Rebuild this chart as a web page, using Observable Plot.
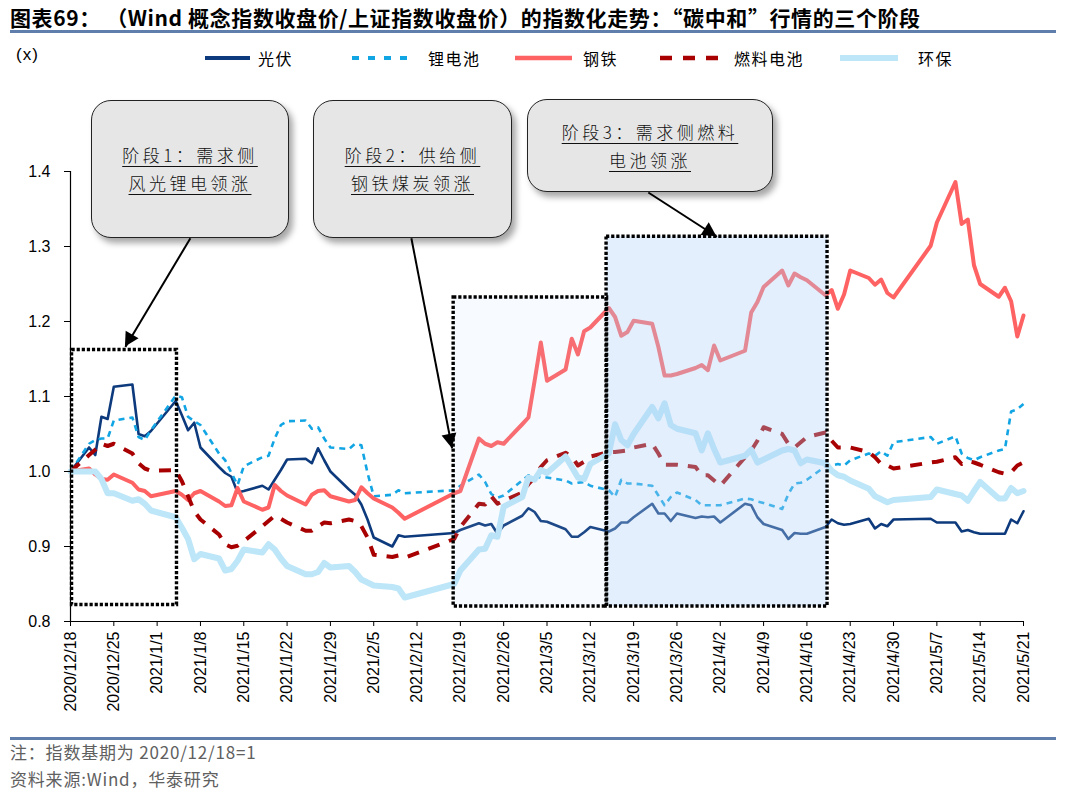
<!DOCTYPE html>
<html><head><meta charset="utf-8">
<script src="https://cdn.jsdelivr.net/npm/d3@7"></script>
<script src="https://cdn.jsdelivr.net/npm/@observablehq/plot@0.6"></script>
<style>
body{margin:0;background:#fff;width:1066px;height:797px;position:relative;overflow:hidden;font-family:"Liberation Sans",Arial,sans-serif;}
.abs{position:absolute;white-space:nowrap;}
#title{left:10px;top:3px;font-family:"Noto Sans CJK SC";font-weight:bold;font-size:21px;line-height:28px;letter-spacing:0.6px;color:#000;}
.rule{left:10px;width:1046px;height:3px;background:#5f7eab;}
#unit{left:16px;top:44px;font-family:"Liberation Sans",Arial,sans-serif;font-size:17px;line-height:22px;letter-spacing:1px;color:#000;}
.lg{top:47px;font-family:"Noto Sans CJK SC";font-size:16px;line-height:22px;letter-spacing:1.5px;color:#000;}
.sw{top:52px;}
.note{left:10px;font-family:"Noto Sans CJK SC";font-size:17px;line-height:22px;color:#606060;letter-spacing:0.8px;}
.call{background:#e6e6e6;border:1.5px solid #222;border-radius:20px;box-shadow:4px 5px 6px rgba(0,0,0,0.35);display:flex;flex-direction:column;align-items:center;justify-content:center;font-family:"Noto Sans CJK SC";font-weight:300;font-size:17px;line-height:28px;letter-spacing:3.5px;color:#111;box-sizing:border-box;z-index:5;}
.call span{text-decoration:underline;text-underline-offset:4px;text-decoration-thickness:1px;}
#chart{position:absolute;left:0;top:80px;}
</style></head>
<body>
<div id="title" class="abs">图表69： （Wind 概念指数收盘价/上证指数收盘价）的指数化走势：“碳中和”行情的三个阶段</div>
<div class="abs rule" style="top:30px"></div>
<div id="unit" class="abs">(x)</div>
<div id="legend"></div>
<div id="chart"></div>
<div class="abs call" style="left:91px;top:100px;width:198px;height:138px"><span>阶段1：需求侧</span><span>风光锂电领涨</span></div>
<div class="abs call" style="left:313px;top:100px;width:199px;height:138px"><span>阶段2：供给侧</span><span>钢铁煤炭领涨</span></div>
<div class="abs call" style="left:527px;top:99px;width:246px;height:93px"><span>阶段3：需求侧燃料</span><span>电池领涨</span></div>
<div class="abs rule" style="top:737px"></div>
<div class="abs note" style="top:741px">注：指数基期为 2020/12/18=1</div>
<div class="abs note" style="top:768px">资料来源:Wind，华泰研究</div>
<script>
// ---------- data ----------
const tradeDates = [
"2020-12-18","2020-12-21","2020-12-22","2020-12-23","2020-12-24","2020-12-25","2020-12-28","2020-12-29","2020-12-30","2020-12-31",
"2021-01-04","2021-01-05","2021-01-06","2021-01-07","2021-01-08","2021-01-11","2021-01-12","2021-01-13","2021-01-14","2021-01-15",
"2021-01-18","2021-01-19","2021-01-20","2021-01-21","2021-01-22","2021-01-25","2021-01-26","2021-01-27","2021-01-28","2021-01-29",
"2021-02-01","2021-02-02","2021-02-03","2021-02-04","2021-02-05","2021-02-08","2021-02-09","2021-02-10","2021-02-18","2021-02-19",
"2021-02-22","2021-02-23","2021-02-24","2021-02-25","2021-02-26","2021-03-01","2021-03-02","2021-03-03","2021-03-04","2021-03-05",
"2021-03-08","2021-03-09","2021-03-10","2021-03-11","2021-03-12","2021-03-15","2021-03-16","2021-03-17","2021-03-18","2021-03-19",
"2021-03-22","2021-03-23","2021-03-24","2021-03-25","2021-03-26","2021-03-29","2021-03-30","2021-03-31","2021-04-01","2021-04-02",
"2021-04-06","2021-04-07","2021-04-08","2021-04-09","2021-04-12","2021-04-13","2021-04-14","2021-04-15","2021-04-16","2021-04-19",
"2021-04-20","2021-04-21","2021-04-22","2021-04-23","2021-04-26","2021-04-27","2021-04-28","2021-04-29","2021-04-30","2021-05-06",
"2021-05-07","2021-05-10","2021-05-11","2021-05-12","2021-05-13","2021-05-14","2021-05-17","2021-05-18","2021-05-19","2021-05-20",
"2021-05-21"];

const pv = [ // 光伏
1.000,1.032,1.022,1.073,1.070,1.113,1.116,1.050,1.047,1.054,
1.094,1.075,1.055,1.065,1.032,1.006,0.998,0.993,0.972,0.974,
0.981,0.976,0.989,1.002,1.016,1.017,1.011,1.031,1.015,1.000,
0.976,0.969,0.956,0.936,0.912,0.900,0.915,0.913,0.918,0.922,
0.931,0.928,0.930,0.917,0.928,0.941,0.951,0.946,0.934,0.933,
0.923,0.913,0.913,0.919,0.926,0.920,0.924,0.932,0.932,0.939,
0.957,0.944,0.944,0.934,0.944,0.938,0.940,0.939,0.940,0.932,
0.957,0.955,0.939,0.930,0.922,0.910,0.918,0.917,0.917,0.926,
0.936,0.931,0.929,0.930,0.937,0.924,0.930,0.927,0.936,0.937,
0.932,0.932,0.920,0.922,0.919,0.917,0.917,0.917,0.936,0.931,0.947];

const lithium = [ // 锂电池
1.000,1.037,1.042,1.044,1.044,1.068,1.072,1.046,1.042,1.055,
1.101,1.099,1.073,1.067,1.062,1.024,1.015,0.998,0.982,1.007,
1.019,1.021,1.044,1.062,1.067,1.068,1.057,1.059,1.044,1.032,
1.030,1.037,1.035,0.998,0.967,0.969,0.975,0.971,0.975,0.981,
0.996,0.986,0.970,0.965,0.968,0.988,0.995,0.994,0.992,0.992,
0.988,0.984,0.985,0.986,0.981,0.975,0.966,0.989,0.984,0.984,
0.981,0.968,0.955,0.966,0.972,0.962,0.955,0.955,0.955,0.955,
0.964,0.963,0.960,0.958,0.950,0.970,0.984,0.985,0.989,1.007,
1.008,1.010,1.008,1.015,1.024,1.021,1.027,1.021,1.039,1.046,
1.037,1.047,1.024,1.018,1.015,1.019,1.028,1.030,1.080,1.083,1.090];

const steel = [ // 钢铁
1.000,1.004,0.996,0.990,0.989,0.996,0.985,0.976,0.974,0.967,
0.974,0.969,0.962,0.971,0.974,0.960,0.954,0.955,0.978,0.960,
0.949,0.952,0.982,0.974,0.968,0.956,0.969,0.974,0.975,0.967,
0.960,0.962,0.979,0.971,0.964,0.952,0.945,0.937,0.971,0.974,
1.044,1.037,1.034,1.039,1.037,1.063,1.072,1.121,1.172,1.121,
1.136,1.177,1.156,1.187,1.192,1.218,1.206,1.181,1.186,1.201,
1.197,1.166,1.128,1.128,1.130,1.138,1.142,1.135,1.168,1.148,
1.161,1.212,1.226,1.246,1.268,1.248,1.264,1.259,1.255,1.235,
1.242,1.217,1.236,1.268,1.258,1.249,1.256,1.238,1.232,1.301,
1.332,1.386,1.330,1.336,1.275,1.250,1.233,1.245,1.227,1.180,1.208];

const fuelCell = [ // 燃料电池
1.000,1.022,1.029,1.037,1.034,1.037,1.024,1.011,1.004,1.001,
1.002,0.987,0.967,0.947,0.936,0.916,0.903,0.899,0.901,0.907,
0.927,0.934,0.941,0.937,0.932,0.921,0.921,0.927,0.932,0.931,
0.936,0.934,0.927,0.912,0.889,0.886,0.888,0.885,0.910,0.926,
0.957,0.956,0.967,0.957,0.961,0.972,0.983,0.992,1.006,1.015,
1.025,1.020,1.008,1.013,1.020,1.026,1.026,1.027,1.028,1.032,
1.037,1.024,1.009,1.009,1.009,1.006,0.995,0.995,0.988,0.981,
1.019,1.028,1.041,1.059,1.050,1.037,1.032,1.039,1.046,1.052,
1.041,1.032,1.032,1.032,1.026,1.019,1.010,1.008,1.004,1.012,
1.013,1.019,1.010,1.014,1.012,1.009,0.999,0.997,0.999,1.008,1.012];

const envProt = [ // 环保
1.000,1.000,1.000,0.990,0.971,0.971,0.961,0.963,0.957,0.948,
0.939,0.925,0.910,0.883,0.890,0.884,0.868,0.870,0.881,0.896,
0.892,0.903,0.896,0.884,0.874,0.863,0.863,0.866,0.878,0.872,
0.874,0.866,0.856,0.852,0.848,0.846,0.844,0.832,0.850,0.868,
0.896,0.897,0.915,0.913,0.953,0.966,0.992,0.989,1.002,0.998,
1.020,1.006,0.992,0.990,1.010,1.024,1.063,1.042,1.035,1.050,
1.086,1.071,1.091,1.062,1.057,1.051,1.028,1.051,1.030,1.012,
1.021,1.029,1.012,1.016,1.028,1.030,1.028,1.011,1.016,1.011,
1.001,0.995,0.993,0.988,0.977,0.967,0.963,0.959,0.962,0.966,
0.976,0.970,0.968,0.961,0.974,0.986,0.964,0.964,0.978,0.971,0.974];

const seriesNames = ["光伏","锂电池","钢铁","燃料电池","环保"];
const seriesValues = [pv, lithium, steel, fuelCell, envProt];

const xTickLabels = ["2020/12/18","2020/12/25","2021/1/1","2021/1/8","2021/1/15","2021/1/22","2021/1/29","2021/2/5","2021/2/12","2021/2/19","2021/2/26","2021/3/5","2021/3/12","2021/3/19","2021/3/26","2021/4/2","2021/4/9","2021/4/16","2021/4/23","2021/4/30","2021/5/7","2021/5/14","2021/5/21"];
const yTicks = [0.8,0.9,1.0,1.1,1.2,1.3,1.4];

// phase boxes (data coordinates)
const phaseStart = ["2020-12-18T06:00","2021-02-17T22:00","2021-03-14T15:00"];
const phaseEnd   = ["2021-01-04T05:00","2021-03-14T17:00","2021-04-19T08:00"];
const phaseLow   = [0.822,0.820,0.820];
const phaseHigh  = [1.162,1.232,1.313];

// callout arrows (data coordinates)
const arrowFromDate = ["2021-01-06T09:00","2021-02-11T02:00","2021-03-21T09:00"];
const arrowFromVal  = [1.311,1.311,1.372];
const arrowToDate   = ["2020-12-26T21:00","2021-02-17T16:00","2021-04-01T11:00"];
const arrowToVal    = [1.166,1.031,1.313];

// ---------- styles ----------
const styles = {
  "光伏":   {stroke:"#0d3a7c", strokeWidth:2.6, dash:null, cap:"round"},
  "锂电池": {stroke:"#12a5e4", strokeWidth:2.6, dash:"6,5", cap:"butt"},
  "钢铁":   {stroke:"#ff6262", strokeWidth:4, dash:null, cap:"round"},
  "燃料电池":{stroke:"#a80000", strokeWidth:4, dash:"12,10", cap:"butt"},
  "环保":   {stroke:"#bde6f9", strokeWidth:6, dash:null, cap:"round"}
};

const iso = d3.utcParse("%Y-%m-%d");
const isoT = d3.utcParse("%Y-%m-%dT%H:%M");
const slash = d3.utcParse("%Y/%m/%d");
const dates = tradeDates.map(iso);
const rows = [];
seriesNames.forEach((name, k) => seriesValues[k].forEach((v, i) => rows.push({date: dates[i], value: v, series: name})));
const tickDates = xTickLabels.map(slash);
const fmt = d => `${d.getUTCFullYear()}/${d.getUTCMonth()+1}/${d.getUTCDate()}`;

const phases = phaseStart.map((s, i) => ({x1: isoT(s), x2: isoT(phaseEnd[i]), y1: phaseLow[i], y2: phaseHigh[i], i}));
const arrows = arrowFromDate.map((s, i) => ({x1: isoT(s), y1: arrowFromVal[i], x2: isoT(arrowToDate[i]), y2: arrowToVal[i]}));

const lineMarks = seriesNames.map(name => {
  const st = styles[name];
  return Plot.line(rows.filter(r => r.series === name), {
    x: "date", y: "value", stroke: st.stroke, strokeWidth: st.strokeWidth,
    strokeDasharray: st.dash || undefined, strokeLinecap: st.cap, strokeLinejoin: "round"
  });
});

const chart = Plot.plot({
  width: 1066, height: 650,
  marginTop: 91, marginBottom: 109, marginLeft: 70, marginRight: 43,
  x: {type: "utc", domain: [dates[0], dates[dates.length-1]]},
  y: {domain: [0.8, 1.4]},
  style: {fontFamily: "'Liberation Sans', Arial, sans-serif", fontSize: "16px", color: "#000", background: "transparent", overflow: "visible"},
  marks: [
    ...lineMarks,
    Plot.rect(phases.filter(p => p.i > 0), {x1: "x1", x2: "x2", y1: "y1", y2: "y2", fill: "#afd1f6", fillOpacity: p => p.i === 2 ? 0.35 : 0.1}),
    Plot.rect(phases, {x1: "x1", x2: "x2", y1: "y1", y2: "y2", fill: "none", stroke: "#000", strokeWidth: 3.4, strokeDasharray: "3.2,1.9"}),
    Plot.link(arrows, {x1: "x1", y1: "y1", x2: "x2", y2: "y2", stroke: "#000", strokeWidth: 2}),
    Plot.ruleY([0.8], {stroke: "#000", strokeWidth: 1.2}),
    Plot.ruleX([dates[0]], {y1: 0.8, y2: 1.4, stroke: "#000", strokeWidth: 1.2}),
    Plot.axisX(tickDates, {tickFormat: fmt, tickRotate: -90, tickSize: 5, tickPadding: 5, fontSize: 16, label: null}),
    Plot.axisY(yTicks, {tickFormat: d3.format(".1f"), tickSize: 6, tickPadding: 14, fontSize: 16, label: null})
  ]
});
document.getElementById("chart").appendChild(chart);

// filled arrowheads
const sx = chart.scale("x"), sy = chart.scale("y");
const svg = d3.select(chart);
arrows.forEach(a => {
  const x1 = sx.apply(a.x1), y1 = sy.apply(a.y1), x2 = sx.apply(a.x2), y2 = sy.apply(a.y2);
  const dx = x2 - x1, dy = y2 - y1, L = Math.hypot(dx, dy), ux = dx / L, uy = dy / L;
  const bx = x2 - ux * 14, by = y2 - uy * 14;
  const pts = [[x2, y2], [bx - uy * 7.5, by + ux * 7.5], [bx + uy * 7.5, by - ux * 7.5]];
  svg.append("polygon").attr("points", pts.map(p => p.join(",")).join(" ")).attr("fill", "#000");
});

// legend
const legendPos = [[205,45,258],[352,60,428],[515,57,583],[660,58,734],[840,58,918]];
const lg = document.getElementById("legend");
seriesNames.forEach((name, i) => {
  const st = styles[name];
  const [x, w, tx] = legendPos[i];
  const sw = d3.create("svg").attr("width", w).attr("height", 12).attr("class", "abs sw").style("left", x + "px");
  sw.append("line").attr("x1", 0).attr("x2", w).attr("y1", 6).attr("y2", 6)
    .attr("stroke", st.stroke).attr("stroke-width", name === "环保" ? 6 : (name === "光伏" || name === "锂电池") ? 4 : 4.5)
    .attr("stroke-dasharray", name === "锂电池" ? "7,9" : name === "燃料电池" ? "12,11" : null);
  lg.appendChild(sw.node());
  const t = document.createElement("div");
  t.className = "abs lg"; t.style.left = tx + "px"; t.textContent = name;
  lg.appendChild(t);
});
</script>
</body></html>
